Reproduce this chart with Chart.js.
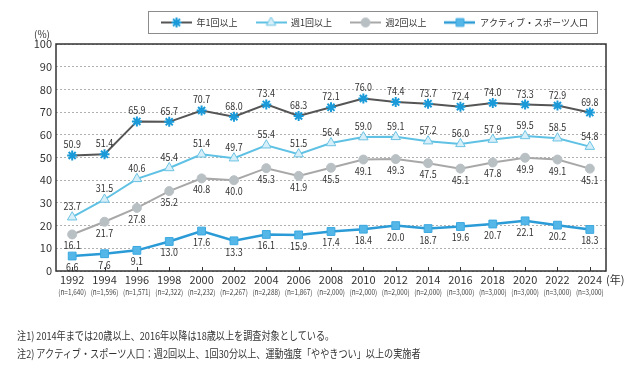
<!DOCTYPE html>
<html>
<head>
<meta charset="utf-8">
<script src="https://cdn.jsdelivr.net/npm/chart.js@4"></script>
<style>
  body { margin: 0; background: #fff; }
  #wrap { position: relative; width: 630px; height: 365px; }
  .note {
    position: absolute; left: 17px; font: 11px 'Noto Sans CJK JP', sans-serif;
    color: #333; white-space: nowrap; transform: scaleX(0.83); transform-origin: left center;
    line-height: 16px;
  }
</style>
</head>
<body>
<div id="wrap">
  <canvas id="chart" width="630" height="365"></canvas>
  <div class="note" style="top:327px">注1) 2014年までは20歳以上、2016年以降は18歳以上を調査対象としている。</div>
  <div class="note" style="top:345px">注2) アクティブ・スポーツ人口：週2回以上、1回30分以上、運動強度「ややきつい」以上の実施者</div>
</div>
<script>
// data
const years = ['1992', '1994', '1996', '1998', '2000', '2002', '2004', '2006', '2008',
  '2010', '2012', '2014', '2016', '2018', '2020', '2022', '2024'];
const sampleSizes = ['(n=1,640)', '(n=1,596)', '(n=1,571)', '(n=2,322)', '(n=2,232)', '(n=2,267)',
  '(n=2,288)', '(n=1,867)', '(n=2,000)', '(n=2,000)', '(n=2,000)', '(n=2,000)', '(n=3,000)',
  '(n=3,000)', '(n=3,000)', '(n=3,000)', '(n=3,000)'];
const seriesNames = ['年1回以上', '週1回以上', '週2回以上', 'アクティブ・スポーツ人口'];
const yearlyOnce = [50.9, 51.4, 65.9, 65.7, 70.7, 68.0, 73.4, 68.3, 72.1, 76.0, 74.4, 73.7, 72.4, 74.0, 73.3, 72.9, 69.8];
const weeklyOnce = [23.7, 31.5, 40.6, 45.4, 51.4, 49.7, 55.4, 51.5, 56.4, 59.0, 59.1, 57.2, 56.0, 57.9, 59.5, 58.5, 54.8];
const weeklyTwice = [16.1, 21.7, 27.8, 35.2, 40.8, 40.0, 45.3, 41.9, 45.5, 49.1, 49.3, 47.5, 45.1, 47.8, 49.9, 49.1, 45.1];
const activeSports = [6.6, 7.6, 9.1, 13.0, 17.6, 13.3, 16.1, 15.9, 17.4, 18.4, 20.0, 18.7, 19.6, 20.7, 22.1, 20.2, 18.3];

// styles
const lineColors = ['#555555', '#5fc1e4', '#a8a8a8', '#2a9bd6'];
const lineWidths = [2, 2, 2, 2.5];
const markerStyles = ['star', 'triangle', 'circle', 'rect'];
const markerFill = ['#1a9ad8', '#d6eff9', '#b9c0c4', '#55b7e8'];
const markerBorder = ['#1a9ad8', '#6cc3e3', '#b9c0c4', '#3aa8e0'];
const markerRadius = [5, 5.5, 4.5, 5.5];
const markerBorderWidth = [2, 1, 1, 1];
const labelSide = ['above', 'above', 'below', 'below'];
const FONT = "'Noto Sans CJK JP', 'Noto Sans', sans-serif";
Chart.defaults.font.family = FONT;
Chart.defaults.color = '#333';

// little line+marker images for the legend
function makeIcon(i) {
  const c = document.createElement('canvas');
  c.width = 31; c.height = 12;
  const g = c.getContext('2d');
  g.strokeStyle = lineColors[i];
  g.lineWidth = lineWidths[i];
  g.beginPath(); g.moveTo(0, 6); g.lineTo(31, 6); g.stroke();
  g.fillStyle = markerFill[i];
  g.strokeStyle = markerBorder[i];
  g.lineWidth = markerBorderWidth[i];
  const r = markerRadius[i], x = 15.5, y = 6;
  g.beginPath();
  if (markerStyles[i] === 'star') {
    for (let k = 0; k < 4; k++) {
      const a = k * Math.PI / 4;
      g.moveTo(x - r * Math.cos(a), y - r * Math.sin(a));
      g.lineTo(x + r * Math.cos(a), y + r * Math.sin(a));
    }
    g.stroke();
  } else if (markerStyles[i] === 'triangle') {
    g.moveTo(x, y - r);
    g.lineTo(x + r * 0.866, y + r * 0.5);
    g.lineTo(x - r * 0.866, y + r * 0.5);
    g.closePath(); g.fill(); g.stroke();
  } else if (markerStyles[i] === 'circle') {
    g.arc(x, y, r, 0, Math.PI * 2); g.fill(); g.stroke();
  } else {
    const s = r * Math.SQRT1_2;
    g.rect(x - s, y - s, 2 * s, 2 * s); g.fill(); g.stroke();
  }
  return c;
}
const legendIcons = seriesNames.map((n, i) => makeIcon(i));

// squeezed text, the picture uses a narrow face for small numbers
function narrowText(ctx, text, x, y, sx) {
  ctx.save();
  ctx.translate(x, y);
  ctx.scale(sx, 1);
  ctx.fillText(text, 0, 0);
  ctx.restore();
}

const extras = {
  id: 'extras',
  afterDatasetsDraw(chart) {
    const ctx = chart.ctx;
    ctx.save();
    ctx.font = '10.5px ' + FONT;
    ctx.fillStyle = '#333';
    ctx.textAlign = 'center';
    ctx.textBaseline = 'middle';
    chart.data.datasets.forEach((ds, i) => {
      chart.getDatasetMeta(i).data.forEach((pt, j) => {
        const dy = labelSide[i] === 'above' ? -11 : 11;
        narrowText(ctx, ds.data[j].toFixed(1), pt.x, pt.y + dy, 0.85);
      });
    });
    ctx.restore();
  },
  afterDraw(chart) {
    const ctx = chart.ctx;
    const a = chart.chartArea;
    const x = chart.scales.x;
    ctx.save();
    // frame
    ctx.strokeStyle = '#333';
    ctx.lineWidth = 1.5;
    ctx.strokeRect(a.left, a.top, a.right - a.left, a.bottom - a.top);
    // small inner ticks on the bottom axis and sample sizes under the years
    ctx.lineWidth = 1;
    ctx.fillStyle = '#444';
    ctx.font = '8px ' + FONT;
    ctx.textAlign = 'center';
    ctx.textBaseline = 'middle';
    years.forEach((y, i) => {
      const px = x.getPixelForValue(i);
      const tx = Math.round(px) + 0.5;
      ctx.beginPath(); ctx.moveTo(tx, a.bottom); ctx.lineTo(tx, a.bottom - 4); ctx.stroke();
      narrowText(ctx, sampleSizes[i], px, a.bottom + 21, 0.8);
    });
    // unit labels
    ctx.fillStyle = '#333';
    ctx.font = '10px ' + FONT;
    ctx.fillText('(%)', a.left - 14, a.top - 10);
    ctx.font = '11px ' + FONT;
    ctx.textAlign = 'left';
    ctx.fillText('(年)', a.right, a.bottom + 9);
    // legend frame
    const hb = chart.legend.legendHitBoxes;
    if (hb && hb.length) {
      const l = hb[0].left - 13;
      const r = hb[hb.length - 1].left + hb[hb.length - 1].width + 9;
      ctx.strokeStyle = '#8c8c8c';
      ctx.lineWidth = 1;
      ctx.strokeRect(Math.round(l) + 0.5, 11.5, Math.round(r - l), 22);
    }
    ctx.restore();
  }
};

const seriesData = [yearlyOnce, weeklyOnce, weeklyTwice, activeSports];

new Chart(document.getElementById('chart'), {
  type: 'line',
  data: {
    labels: years,
    datasets: seriesNames.map((name, i) => ({
      label: name,
      data: seriesData[i],
      borderColor: lineColors[i],
      borderWidth: lineWidths[i],
      pointStyle: markerStyles[i],
      pointRadius: markerRadius[i],
      pointBackgroundColor: markerFill[i],
      pointBorderColor: markerBorder[i],
      pointBorderWidth: markerBorderWidth[i],
      tension: 0,
      fill: false
    }))
  },
  options: {
    responsive: false,
    animation: false,
    layout: { padding: { top: 0, left: 0, right: 24, bottom: 68 } },
    plugins: {
      tooltip: { enabled: false },
      title: { display: true, text: '', weight: 500, font: { size: 1, lineHeight: 1 }, padding: { top: 0, bottom: 6 } },
      legend: {
        position: 'top',
        align: 'end',
        labels: {
          usePointStyle: true,
          pointStyleWidth: 31,
          padding: 18,
          color: '#333',
          font: { size: 9 },
          generateLabels(chart) {
            const items = Chart.defaults.plugins.legend.labels.generateLabels(chart);
            items.forEach((it, i) => { it.pointStyle = legendIcons[i]; });
            return items;
          }
        }
      }
    },
    scales: {
      x: {
        type: 'category',
        offset: true,
        grid: { display: false, drawTicks: false },
        border: { display: false },
        ticks: { autoSkip: false, maxRotation: 0, padding: 2, font: { size: 11 }, color: '#333' },
        afterFit(s) { s.height = 26; }
      },
      y: {
        min: 0,
        max: 100,
        ticks: { stepSize: 10, padding: 4, font: { size: 11 }, color: '#333' },
        grid: { color: '#b0b0b0', lineWidth: 1, drawTicks: false },
        border: { display: false, dash: [2, 2] },
        afterFit(s) { s.width = 56; }
      }
    }
  },
  plugins: [extras]
});
</script>
</body>
</html>
